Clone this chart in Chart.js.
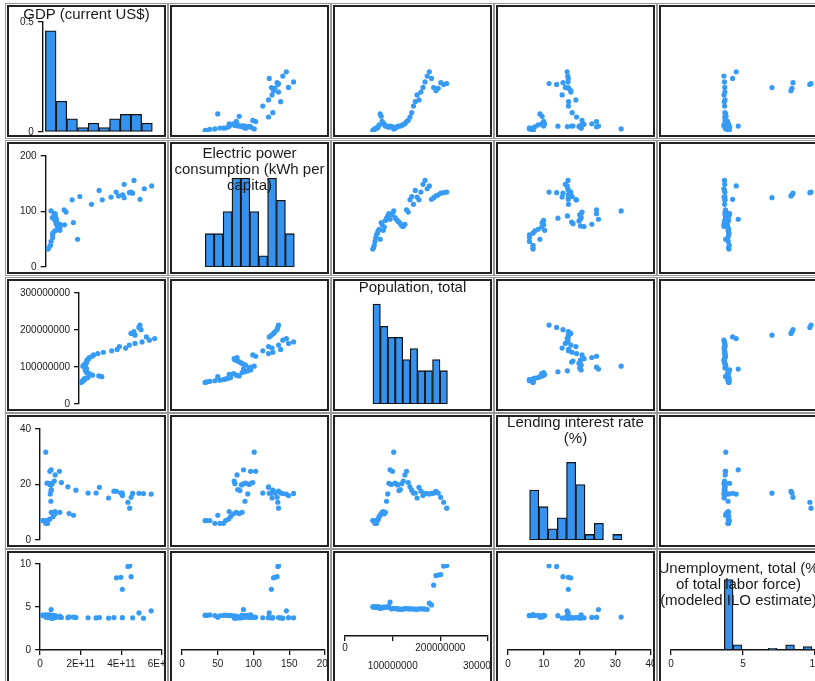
<!DOCTYPE html>
<html><head><meta charset="utf-8">
<script src="https://cdn.jsdelivr.net/npm/chart.js@4.4.1/dist/chart.umd.min.js"></script>
<style>
html,body{margin:0;padding:0;width:815px;height:681px;overflow:hidden;background:#fff;}
.cell{position:absolute;width:159px;height:132px;}
.cell canvas{position:absolute;left:0;top:0;}
.frame{position:absolute;left:0;top:0;width:159px;height:132px;box-sizing:border-box;border:2px solid #222;box-shadow:0 0 0 1px #fff,0 0 0 2px #999;pointer-events:none;}
.title{position:absolute;left:-20px;width:199px;text-align:center;font-family:Arial,"Liberation Sans",sans-serif;font-size:15px;line-height:16px;color:#1a1a1a;white-space:nowrap;pointer-events:none;}
</style></head><body>
<script>
// ---- data (Nigeria, 1972-2021) ----
const years = [1972,1973,1974,1975,1976,1977,1978,1979,1980,1981,
  1982,1983,1984,1985,1986,1987,1988,1989,1990,1991,
  1992,1993,1994,1995,1996,1997,1998,1999,2000,2001,
  2002,2003,2004,2005,2006,2007,2008,2009,2010,2011,
  2012,2013,2014,2015,2016,2017,2018,2019,2020,2021];
const gdp = [12.27e9,15.16e9,24.85e9,27.78e9,36.31e9,36.04e9,36.53e9,47.26e9,64.20e9,164.48e9,
  142.77e9,97.09e9,73.48e9,73.75e9,54.81e9,52.68e9,49.65e9,44.00e9,54.04e9,49.12e9,
  47.79e9,27.75e9,33.83e9,44.06e9,51.08e9,54.46e9,54.60e9,59.37e9,69.45e9,74.03e9,
  95.05e9,104.91e9,136.39e9,176.13e9,236.10e9,275.63e9,337.04e9,291.88e9,363.36e9,404.99e9,
  455.50e9,508.69e9,546.68e9,486.80e9,404.65e9,375.75e9,397.19e9,448.12e9,432.20e9,440.83e9];
const elec = [32.3,34.5,39,46,53,58,61,65,68,50,
  80,76,66,72,84,88,92,96,86,94,
  96,101,89,86,83,81,78,74,73,77,
  103,99,121,127,113,138,126,121,135,149,
  156,141,146,122,125,128,130,133,134,135];
const pop = [58.2e6,59.7e6,61.3e6,62.9e6,64.5e6,66.2e6,67.9e6,69.7e6,71.5e6,73.9e6,
  75.9e6,78.0e6,80.2e6,82.5e6,84.8e6,87.2e6,89.6e6,92.0e6,94.5e6,97.0e6,
  99.6e6,102.2e6,104.9e6,107.6e6,110.4e6,113.2e6,116.1e6,119.1e6,122.4e6,125.7e6,
  129.1e6,132.6e6,136.2e6,139.9e6,143.6e6,147.4e6,151.2e6,155.2e6,159.3e6,163.6e6,
  167.9e6,172.4e6,176.9e6,181.4e6,186.0e6,190.8e6,195.6e6,200.9e6,207.0e6,213.4e6];
const lending = [7.0,7.0,7.0,6.0,6.0,6.0,7.0,7.5,8.43,8.92,
  9.54,9.98,10.24,9.43,9.96,13.96,16.62,20.44,25.30,20.04,
  24.76,31.65,20.48,20.23,19.84,17.80,18.18,20.29,21.27,23.44,
  24.77,20.71,19.18,17.95,16.90,16.94,15.14,18.99,17.59,16.02,
  16.79,16.72,16.55,16.85,16.87,17.56,16.90,15.38,13.60,11.48];
const unemp = [4.05,4.02,4.08,4.00,3.98,4.03,4.06,4.01,4.04,3.82,
  3.85,3.95,4.00,3.97,4.02,3.99,4.04,4.10,4.70,3.78,
  3.80,3.83,3.82,3.79,3.76,3.74,3.72,3.70,3.74,3.79,
  3.81,3.78,3.76,3.77,3.75,3.73,3.71,3.78,3.77,3.76,
  3.74,3.70,4.56,4.31,7.06,8.39,8.46,8.53,9.71,9.79];

// histogram counts (10 equal bins between min and max of each series)
const gdpHist = [23,7,3,1,2,1,3,4,4,2];
const elecHist = [3,3,5,8,8,5,1,8,6,3];
const popHist = [9,7,6,6,4,5,3,3,4,3];
const lendHist = [9,6,2,4,14,10,1,3,0,1];
const unempHist = [41,3,0,0,0,1,0,3,0,2];

const titles = [
  ['GDP (current US$)'],
  ['Electric power','consumption (kWh per','capita)'],
  ['Population, total'],
  ['Lending interest rate','(%)'],
  ['Unemployment, total (%','of total labor force)','(modeled ILO estimate)']
];
const xAxisMax = [6e11,200,3e8,40,10];
const yAxisMax = [1e12,200,3e8,40,10];
const xTickVals = [[0,2e11,4e11,6e11],[0,50,100,150,200],[0,1e8,2e8,3e8],[0,10,20,30,40],[0,5,10]];
const yTickVals = [[0,5e11,1e12],[0,100,200],[0,1e8,2e8,3e8],[0,20,40],[0,5,10]];
const densityMax = [0.5,0.2,0.2,0.4,1.0];
const densityTicks = [0,0.5];

// ---- rendering ----
const vars = [gdp, elec, pop, lending, unemp];
const hists = [gdpHist, elecHist, popHist, lendHist, unempHist];
const FONT = 'Arial, "Liberation Sans", sans-serif';
Chart.defaults.font.family = FONT;
Chart.defaults.animation = false;

const colLeft = [7,170,333,496,659];
const rowTop = [5,142,279,415,551];
const CW = 159, CH = 132;
const padTopRow = [17,14,14,14,13];
const padBotRow = [5,7,7,7,10];
const titleTop = [1,2.5,-0.5,-1,9];

function fmt(i, v) {
  if (i === 0) return v === 0 ? '0' : (v / 1e11) + 'E+11';
  return String(v);
}

function axis(isX, show, min, max, ticks, labelFn, lineH) {
  return {
    type: 'linear', min: min, max: max, display: show, offset: false,
    grid: { display: show, drawOnChartArea: false, drawTicks: true, tickLength: 5,
            color: '#111', tickColor: '#111', lineWidth: 1.3, tickWidth: 1.3, offset: false },
    border: { display: show, color: '#111', width: 1.4 },
    ticks: { autoSkip: false, maxRotation: 0, minRotation: 0, padding: isX ? 3 : 4,
             color: '#1a1a1a', font: { family: FONT, size: 10, lineHeight: lineH || 1.2 },
             callback: (v, i) => labelFn(v, i) },
    afterBuildTicks: s => { s.ticks = ticks.map(v => ({ value: v })); },
    afterFit: s => {
      if (isX) { s.paddingLeft = 0; s.paddingRight = 0; }
      else { s.paddingTop = 0; s.paddingBottom = 0; }
    }
  };
}

for (let r = 0; r < 5; r++) {
  for (let c = 0; c < 5; c++) {
    const cell = document.createElement('div');
    cell.className = 'cell';
    cell.style.left = colLeft[c] + 'px';
    cell.style.top = rowTop[r] + 'px';
    const cv = document.createElement('canvas');
    cv.width = CW; cv.height = CH;
    cv.style.width = CW + 'px'; cv.style.height = CH + 'px';
    cell.appendChild(cv);
    document.body.appendChild(cell);

    const showY = c === 0;
    const showX = r === 4;
    let padB = padBotRow[r];
    if (r === 4 && c === 2) padB = 9;
    const layout = { padding: { left: showY ? 9 : 12, right: 3, top: padTopRow[r], bottom: padB } };

    const xLabel = (c === 2)
      ? (v, i) => (i % 2 ? ['', '', fmt(c, v)] : fmt(c, v))
      : (v) => fmt(c, v);
    const xAxis = axis(true, showX, 0, xAxisMax[c], xTickVals[c], xLabel, c === 2 ? 0.9 : 1.2);

    let cfg;
    if (r === c) {
      const data = vars[c];
      const n = data.length;
      const lo = Math.min(...data), hi = Math.max(...data);
      const w = (hi - lo) / hists[c].length;
      const pts = hists[c].map((cnt, k) => ({ x: lo + w * (k + 0.5), y: cnt / n }));
      const yAxis = axis(false, showY, 0, densityMax[c], densityTicks, v => (v === 0 ? '0' : String(v)));
      cfg = {
        type: 'bar',
        data: { datasets: [{ data: pts, backgroundColor: '#3592ef', borderColor: '#141414',
                             borderWidth: 1.3, borderSkipped: false,
                             barPercentage: 1, categoryPercentage: 1 }] },
        options: { responsive: false, animation: false, events: [], layout: layout,
                   plugins: { legend: { display: false }, tooltip: { enabled: false } },
                   scales: { x: xAxis, y: yAxis } }
      };
    } else {
      const pts = vars[c].map((v, k) => ({ x: v, y: vars[r][k] }));
      const yAxis = axis(false, showY, 0, yAxisMax[r], yTickVals[r], v => fmt(r, v));
      cfg = {
        type: 'scatter',
        data: { datasets: [{ data: pts, pointRadius: 2.6, pointBackgroundColor: 'rgb(55,155,245)',
                             pointBorderWidth: 0, borderWidth: 0 }] },
        options: { responsive: false, animation: false, events: [], layout: layout,
                   plugins: { legend: { display: false }, tooltip: { enabled: false } },
                   scales: { x: xAxis, y: yAxis } }
      };
    }
    new Chart(cv, cfg);

    if (r === c) {
      const t = document.createElement('div');
      t.className = 'title';
      t.style.top = titleTop[r] + 'px';
      t.innerHTML = titles[r].map(s => s.replace(/&/g,'&amp;').replace(/</g,'&lt;')).join('<br>');
      cell.appendChild(t);
    }
    const fr = document.createElement('div');
    fr.className = 'frame';
    cell.appendChild(fr);
  }
}
</script>
</body></html>
